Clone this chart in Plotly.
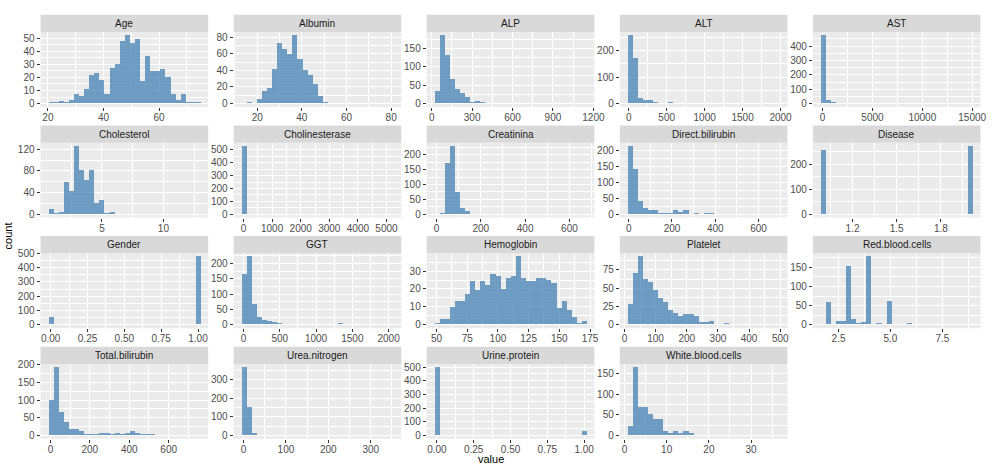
import plotly.graph_objects as go
import numpy as np

# ---------------- data (30-bin histograms) ----------------
variables = ["Age", "Albumin", "ALP", "ALT", "AST",
             "Cholesterol", "Cholinesterase", "Creatinina", "Direct.bilirubin", "Disease",
             "Gender", "GGT", "Hemoglobin", "Platelet", "Red.blood.cells",
             "Total.bilirubin", "Urea.nitrogen", "Urine.protein", "White.blood.cells"]

age_counts = [1, 1, 2, 1, 3, 7, 6, 11, 22, 23, 18, 7, 27, 30, 48, 52, 46, 49, 17, 36, 25, 25, 26, 20, 7, 3, 7, 1, 1, 1]
albumin_counts = [1, 2, 0, 5, 15, 19, 41, 73, 66, 59, 82, 54, 40, 34, 24, 9, 2, 1, 0, 0, 0, 0, 0, 0, 0, 1, 0, 0, 0, 1]
alp_counts = [35, 185, 133, 66, 40, 28, 17, 5, 7, 5, 0, 0, 0, 0, 0, 0, 0, 0, 0, 0, 0, 0, 0, 0, 0, 0, 0, 0, 0, 1]
alt_counts = [258, 172, 22, 15, 13, 6, 2, 2, 4, 2, 2, 2, 2, 1, 0, 0, 0, 0, 0, 2, 0, 0, 0, 0, 2, 0, 0, 0, 0, 1]
ast_counts = [474, 25, 12, 1, 5, 0, 0, 0, 0, 0, 0, 0, 0, 0, 0, 0, 0, 0, 0, 0, 0, 0, 0, 0, 0, 0, 0, 0, 0, 1]
cholesterol_counts = [10, 2, 4, 60, 43, 126, 83, 64, 82, 21, 26, 2, 4, 0, 0, 1, 0, 1, 0, 0, 0, 0, 0, 0, 0, 0, 0, 0, 0, 1]
cholinesterase_counts = [529, 0, 0, 0, 0, 0, 0, 0, 0, 0, 0, 0, 0, 0, 0, 0, 0, 0, 0, 0, 0, 0, 0, 0, 0, 0, 0, 0, 0, 1]
creatinina_counts = [0, 5, 173, 230, 75, 22, 11, 1, 2, 0, 0, 0, 0, 0, 2, 0, 0, 0, 0, 0, 0, 0, 0, 0, 0, 0, 0, 0, 0, 1]
direct_bilirubin_counts = [215, 143, 44, 20, 14, 14, 5, 5, 5, 14, 7, 13, 3, 5, 3, 5, 5, 3, 1, 0, 0, 0, 0, 0, 0, 0, 0, 0, 0, 1]
disease_counts = [258, 0, 0, 0, 0, 0, 0, 0, 0, 0, 0, 0, 0, 0, 0, 0, 0, 0, 0, 0, 0, 0, 0, 0, 0, 0, 0, 0, 0, 273]
gender_counts = [55, 0, 0, 0, 0, 0, 0, 0, 0, 0, 0, 0, 0, 0, 0, 0, 0, 0, 0, 0, 0, 0, 0, 0, 0, 0, 0, 0, 0, 477]
ggt_counts = [163, 222, 68, 25, 15, 10, 7, 5, 3, 3, 0, 3, 3, 0, 0, 0, 0, 0, 0, 4, 0, 0, 0, 0, 0, 0, 0, 0, 0, 1]
hemoglobin_counts = [1, 3, 3, 10, 13, 13, 17, 24, 19, 24, 22, 28, 27, 20, 26, 27, 38, 26, 24, 24, 26, 26, 25, 23, 9, 13, 8, 4, 1, 2]
platelet_counts = [28, 71, 93, 62, 58, 47, 36, 31, 20, 16, 12, 14, 14, 11, 3, 3, 5, 1, 1, 2, 1, 1, 0, 1, 0, 0, 0, 0, 0, 1]
red_blood_cells_counts = [0, 60, 1, 10, 8, 152, 13, 5, 7, 178, 2, 5, 2, 62, 0, 0, 0, 3, 0, 0, 0, 0, 0, 0, 0, 0, 0, 0, 0, 1]
total_bilirubin_counts = [100, 193, 66, 37, 17, 17, 12, 5, 5, 5, 7, 6, 5, 7, 5, 8, 12, 7, 4, 3, 5, 0, 2, 2, 0, 2, 0, 0, 1, 2]
urea_nitrogen_counts = [365, 153, 12, 4, 0, 0, 0, 0, 0, 0, 0, 0, 0, 0, 0, 0, 0, 0, 0, 0, 0, 0, 0, 0, 0, 0, 0, 0, 0, 1]
urine_protein_counts = [498, 0, 0, 0, 0, 0, 0, 0, 0, 0, 0, 0, 0, 0, 0, 0, 0, 0, 0, 0, 0, 0, 0, 0, 0, 0, 0, 0, 0, 36]
white_blood_cells_counts = [23, 165, 68, 70, 52, 41, 39, 12, 7, 10, 5, 10, 5, 0, 0, 0, 2, 0, 0, 0, 0, 0, 0, 0, 0, 0, 0, 0, 0, 1]

# histogram extent (lower edge of first bin, upper edge of last bin)
bin_extents = [(20.09, 74.91), (12.86, 81.1), (19.5, 1150.5), (-17, 1990), (-206, 15067),
               (0.62, 13.02), (-79, 5250), (-10, 678), (-5.8, 698), (0.9828, 2.0172),
               (-0.0172, 1.0172), (-31, 2069), (48.2, 172.3), (9.6, 498.6), (1.63, 8.97),
               (-11.4, 761.6), (-5.3, 354), (-0.0172, 1.0172), (0.7, 36.8)]

all_counts = [age_counts, albumin_counts, alp_counts, alt_counts, ast_counts,
              cholesterol_counts, cholinesterase_counts, creatinina_counts, direct_bilirubin_counts, disease_counts,
              gender_counts, ggt_counts, hemoglobin_counts, platelet_counts, red_blood_cells_counts,
              total_bilirubin_counts, urea_nitrogen_counts, urine_protein_counts, white_blood_cells_counts]

# x-axis tick labels per panel
x_tick_labels = [
    ["20", "40", "60"],
    ["20", "40", "60", "80"],
    ["0", "300", "600", "900", "1200"],
    ["0", "500", "1000", "1500", "2000"],
    ["0", "5000", "10000", "15000"],
    ["5", "10"],
    ["0", "1000", "2000", "3000", "4000", "5000"],
    ["0", "200", "400", "600"],
    ["0", "200", "400", "600"],
    ["1.2", "1.5", "1.8"],
    ["0.00", "0.25", "0.50", "0.75", "1.00"],
    ["0", "500", "1000", "1500", "2000"],
    ["50", "75", "100", "125", "150", "175"],
    ["0", "100", "200", "300", "400", "500"],
    ["2.5", "5.0", "7.5"],
    ["0", "200", "400", "600"],
    ["0", "100", "200", "300"],
    ["0.00", "0.25", "0.50", "0.75", "1.00"],
    ["0", "10", "20", "30"],
]
# y-axis tick spacing per panel
y_dticks = [10, 20, 50, 100, 100, 40, 100, 50, 50, 100, 100, 50, 10, 25, 50, 50, 100, 100, 50]

# ---------------- layout geometry ----------------
W, H = 992, 468
col_left0, col_step, panel_w = 41, 195.25, 169.5
row_top0, row_step, strip_h, panel_h = 10, 112.3, 17.5, 76

FONT = "Liberation Sans, Arial, sans-serif"
BAR = "rgba(70,130,180,0.76)"

fig = go.Figure()
layout = dict(
    width=W, height=H,
    margin=dict(l=0, r=0, t=0, b=0),
    paper_bgcolor="white", plot_bgcolor="white",
    showlegend=False, bargap=0,
    font=dict(family=FONT, color="#4D4D4D", size=10),
)
shapes, annotations = [], []


def minor_of(vals, lo, hi):
    step = vals[1] - vals[0]
    out = [v - step / 2 for v in vals] + [vals[-1] + step / 2]
    out = [vals[0] - 1.5 * step] + out + [vals[-1] + 1.5 * step]
    return [m for m in out if lo <= m <= hi]


def ticks_y(dy, ymax):
    return list(np.arange(0, ymax * 1.06, dy))


for i, (name, counts, (lo, hi)) in enumerate(zip(variables, all_counts, bin_extents)):
    r, c = divmod(i, 5)
    k = i + 1
    xa, ya = ("x" if k == 1 else f"x{k}"), ("y" if k == 1 else f"y{k}")
    xl, yl = ("xaxis" if k == 1 else f"xaxis{k}"), ("yaxis" if k == 1 else f"yaxis{k}")

    n = len(counts)
    edges = np.linspace(lo, hi, n + 1)
    centers = (edges[:-1] + edges[1:]) / 2
    bw = (hi - lo) / n
    fig.add_trace(go.Bar(x=centers, y=counts, width=bw, marker=dict(color=BAR, line=dict(width=0)),
                         xaxis=xa, yaxis=ya, hoverinfo="x+y"))

    x0 = col_left0 + c * col_step
    x1 = x0 + panel_w
    st = row_top0 + r * row_step
    pt = st + strip_h
    pb = pt + panel_h

    span = hi - lo
    xr = [lo - 0.05 * span, hi + 0.05 * span]
    ymax = max(counts)
    yr = [-0.05 * ymax, 1.05 * ymax]
    labels = x_tick_labels[i]
    xv = [float(t) for t in labels]
    dy = y_dticks[i]
    yv = ticks_y(dy, ymax)

    layout[xl] = dict(domain=[x0 / W, x1 / W], anchor=ya, range=xr,
                      tickmode="array", tickvals=xv, ticktext=labels,
                      showgrid=True, gridcolor="white", gridwidth=1.1,
                      minor=dict(tickmode="array", tickvals=minor_of(xv, xr[0], xr[1]),
                                 showgrid=True, gridcolor="white", gridwidth=0.5, ticklen=0),
                      ticks="outside", ticklen=3, tickcolor="#333333", tickwidth=1,
                      ticklabelstandoff=-2,
                      showline=False, zeroline=False, tickfont=dict(size=10, color="#4D4D4D"),
                      fixedrange=True)
    layout[yl] = dict(domain=[1 - pb / H, 1 - pt / H], anchor=xa, range=yr,
                      tickmode="array", tickvals=yv, ticktext=[f"{v:g}" for v in yv],
                      showgrid=True, gridcolor="white", gridwidth=1.1,
                      minor=dict(tickmode="array", tickvals=minor_of(yv, yr[0], yr[1]),
                                 showgrid=True, gridcolor="white", gridwidth=0.5, ticklen=0),
                      ticks="outside", ticklen=3, tickcolor="#333333", tickwidth=1,
                      showline=False, zeroline=False, tickfont=dict(size=10, color="#4D4D4D"),
                      fixedrange=True)
    # panel background
    shapes.append(dict(type="rect", xref="paper", yref="paper", x0=x0 / W, x1=x1 / W,
                       y0=1 - pb / H, y1=1 - pt / H, fillcolor="#EBEBEB", line=dict(width=0), layer="below"))
    # strip
    shapes.append(dict(type="rect", xref="paper", yref="paper", x0=x0 / W, x1=x1 / W,
                       y0=1 - pt / H, y1=1 - st / H, fillcolor="#D9D9D9", line=dict(width=0), layer="below"))
    annotations.append(dict(text=name, xref="paper", yref="paper", x=(x0 + x1) / 2 / W,
                            y=1 - (st + strip_h / 2) / H, showarrow=False, xanchor="center", yanchor="middle",
                            font=dict(family=FONT, size=10, color="#1A1A1A")))

annotations.append(dict(text="count", xref="paper", yref="paper", x=8 / W, y=1 - 234 / H, textangle=-90,
                        showarrow=False, xanchor="center", yanchor="middle",
                        font=dict(family=FONT, size=11, color="#000000")))
annotations.append(dict(text="value", xref="paper", yref="paper", x=497 / W, y=1 - 461 / H,
                        showarrow=False, xanchor="center", yanchor="middle",
                        font=dict(family=FONT, size=11, color="#000000")))

layout["shapes"] = shapes
layout["annotations"] = annotations
fig.update_layout(**layout)
fig.write_html("out.html", config={"displayModeBar": False})

# remove the default page margin so the figure sits at the window's top-left corner
with open("out.html", "r", encoding="utf-8") as f:
    html = f.read()
html = html.replace("<head>", "<head><style>html,body{margin:0;padding:0;overflow:hidden;}</style>", 1)
with open("out.html", "w", encoding="utf-8") as f:
    f.write(html)
